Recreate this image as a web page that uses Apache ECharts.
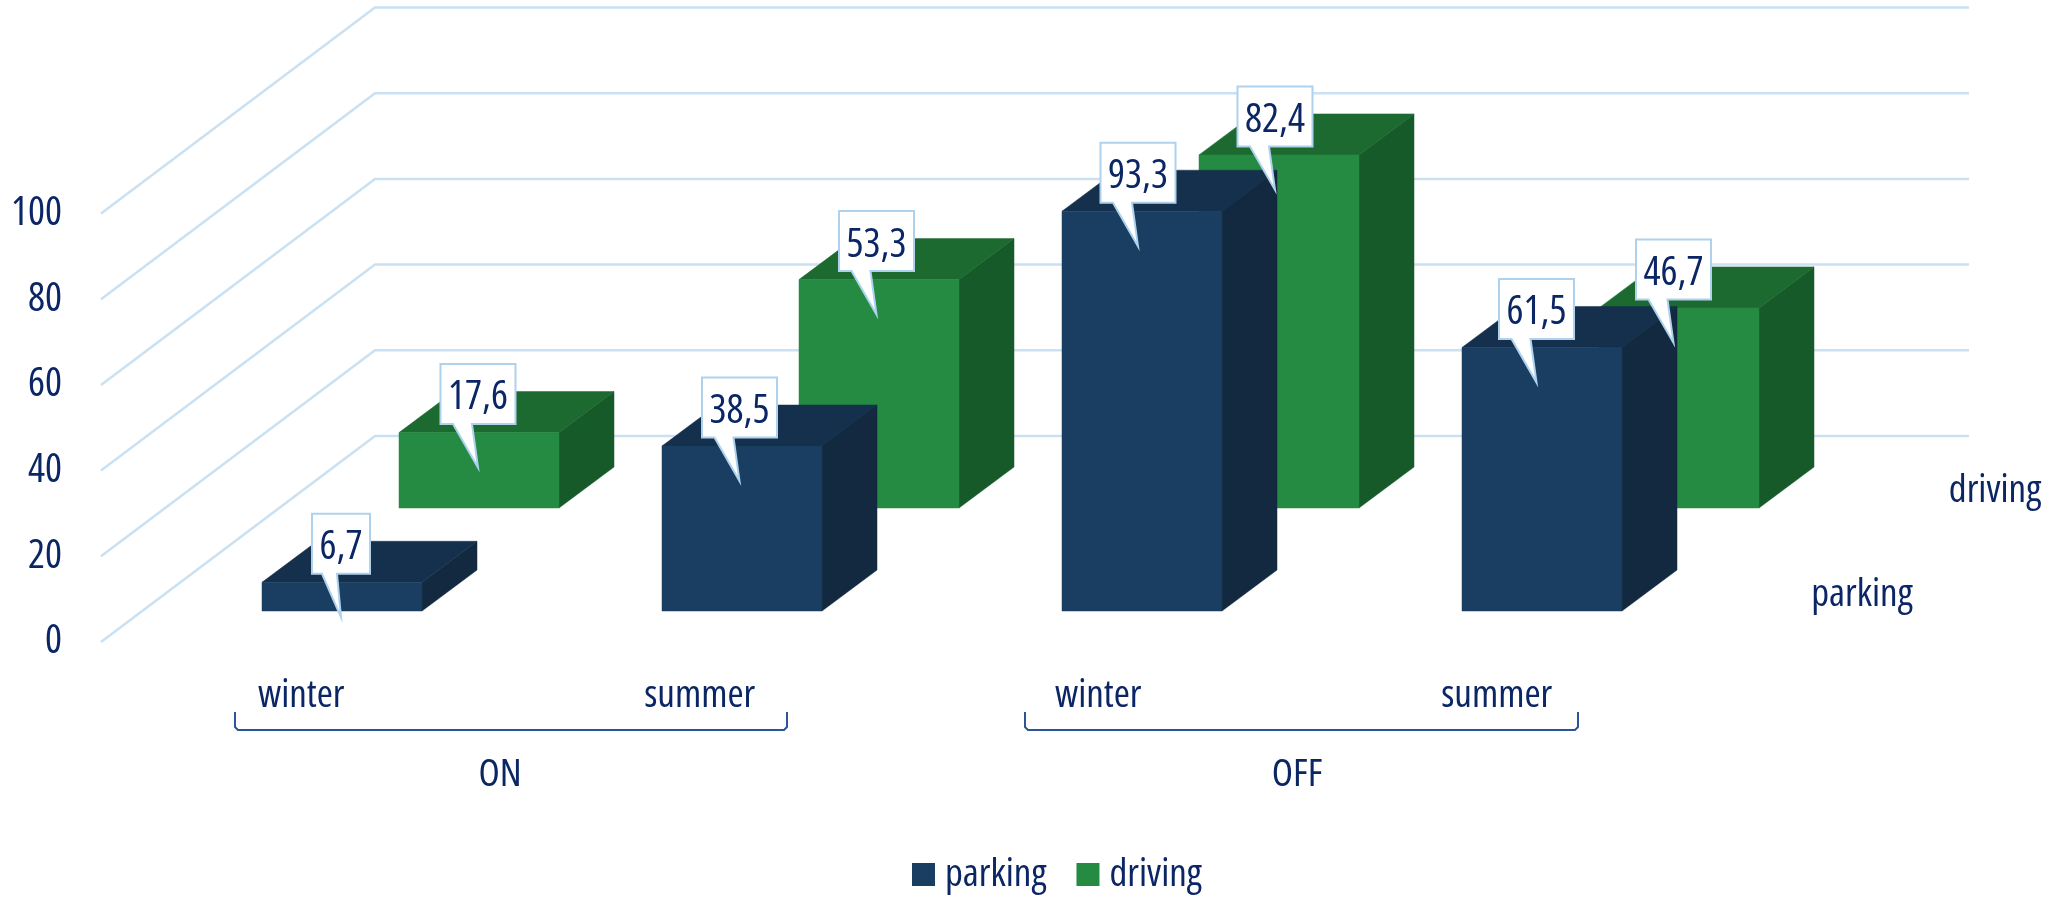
<!DOCTYPE html>
<html><head><meta charset="utf-8">
<style>html,body{margin:0;padding:0;background:#fff}#c{width:2049px;height:897px}</style>
<script src="https://cdn.jsdelivr.net/npm/echarts@6/dist/echarts.min.js"></script>
</head><body><div id="c"></div>
<script>
const seasons = ['winter','summer','winter','summer'];
const groupLabels = ['ON','OFF'];
const rowNames = ['parking','driving'];
const parking = [6.7,38.5,93.3,61.5];
const driving = [17.6,53.3,82.4,46.7];
const yTicks = [0,20,40,60,80,100];

const FONT = '"Open Sans",sans-serif';
const STRETCH = 'condensed';
const INK = '#0b2665';
const NUM = 40, WORD = 39;
const PAL = [
  {front:'#193e61',top:'#15304c',side:'#12293f'},
  {front:'#258a42',top:'#1c6a30',side:'#175a29'}
];
const ROW = [137,-103], MARGIN = [41,-31], DEPTH = [55,-41], BARW = 160, WALL = [274,-206];

function barBase(api,c,row){
  const p = api.coord([c,0]);
  return [p[0]+MARGIN[0]+row*ROW[0]-BARW/2, p[1]+MARGIN[1]+row*ROW[1]];
}
function barItem(row){
  return function(params,api){
    const c = api.value(0), v = api.value(1), b = barBase(api,c,row);
    const top = b[1] + (api.coord([c,v])[1]-api.coord([c,0])[1]);
    const L=b[0], R=L+BARW, B=b[1], dx=DEPTH[0], dy=DEPTH[1], col=PAL[row];
    const poly=(pts,fill)=>({type:'polygon',shape:{points:pts},style:{fill:fill,stroke:fill,lineWidth:0.5}});
    return {type:'group',children:[
      poly([[R,B],[R+dx,B+dy],[R+dx,top+dy],[R,top]],col.side),
      poly([[L,top],[R,top],[R+dx,top+dy],[L+dx,top+dy]],col.top),
      poly([[L,B],[R,B],[R,top],[L,top]],col.front)
    ]};
  };
}
function calloutItem(row){
  return function(params,api){
    const c = api.value(0), v = api.value(1), b = barBase(api,c,row);
    const top = b[1] + (api.coord([c,v])[1]-api.coord([c,0])[1]);
    const txt = String(v).replace('.',',');
    const cx = b[0]+BARW/2-1-1.5*c;
    const w = txt.length>3?75:58, h=60, by=top-8.5, ty=by-h;
    const t1 = txt.length>3?-25:-19, t2 = txt.length>3?-6:-4;
    return {type:'group',children:[
      {type:'polygon',shape:{points:[[cx-w/2,ty],[cx+w/2,ty],[cx+w/2,by],[cx+t2,by],[cx,top+35],[cx+t1,by],[cx-w/2,by]]},
       style:{fill:'#fff',stroke:'#aed2ee',lineWidth:2}},
      {type:'text',style:{text:txt,x:cx,y:ty+h/2+4,align:'center',verticalAlign:'middle',font:STRETCH+' '+NUM+'px '+FONT,fill:INK}}
    ]};
  };
}
function gridItem(params,api){
  const p = api.coord([0,api.value(0)]);
  const x0 = params.coordSys.x, y = p[1];
  const right = params.coordSys.x+params.coordSys.width+268;
  return {type:'polyline',shape:{points:[[x0,y],[x0+WALL[0],y+WALL[1]],[right,y+WALL[1]]]},
    style:{fill:null,stroke:'#c9e1f3',lineWidth:2.5}};
}
const catIdx = a => a.map((v,i)=>[i,v]);
const bracket=(l,r)=>({type:'polyline',shape:{points:[[l,712],[l,727],[l+3,730],[r-3,730],[r,727],[r,712]]},
  style:{fill:null,stroke:'#2b5597',lineWidth:2},z:5});
const txt=(s,x,y)=>({type:'text',style:{text:s,x:x,y:y,align:'center',verticalAlign:'middle',font:STRETCH+' '+WORD+'px '+FONT,fill:INK},z:5});

const chart = echarts.init(document.getElementById('c'),null,{renderer:'canvas'});
chart.setOption({
  animation:false,
  backgroundColor:'#fff',
  grid:[
    {left:101,top:213.5,width:1600,height:428.5},
    {left:102,top:213.5,width:1594,height:428.5}
  ],
  xAxis:[
    {type:'category',data:seasons,gridIndex:0,axisLine:{show:false},axisTick:{show:false},axisLabel:{show:false}},
    {type:'category',data:seasons,gridIndex:1,axisLine:{show:false},axisTick:{show:false},
     axisLabel:{show:true,interval:0,margin:34,fontStyle:STRETCH,fontFamily:FONT,fontSize:WORD,color:INK}}
  ],
  yAxis:[
    {type:'value',min:0,max:100,interval:20,gridIndex:0,splitLine:{show:false},axisLine:{show:false},axisTick:{show:false},
     axisLabel:{margin:39,padding:[12,0,0,0],fontStyle:STRETCH,fontFamily:FONT,fontSize:NUM,color:INK}},
    {type:'value',min:0,max:100,interval:20,gridIndex:1,show:false,splitLine:{show:false}}
  ],
  legend:{data:rowNames,left:907,top:850,itemWidth:23,itemHeight:23,itemGap:30,icon:'rect',
    textStyle:{fontStyle:STRETCH,fontFamily:FONT,fontSize:WORD,color:INK,padding:[0,0,0,5]}},
  series:[
    {type:'custom',name:'grid',silent:true,z:1,data:yTicks.map(v=>[v]),encode:{y:0},renderItem:gridItem,clip:false},
    {type:'custom',name:'driving',z:2,itemStyle:{color:PAL[1].front},data:catIdx(driving),encode:{x:0,y:1},renderItem:barItem(1),clip:false},
    {type:'custom',name:'parking',z:3,itemStyle:{color:PAL[0].front},data:catIdx(parking),encode:{x:0,y:1},renderItem:barItem(0),clip:false},
    {type:'custom',name:'driving labels',z:4,data:catIdx(driving),encode:{x:0,y:1},renderItem:calloutItem(1),clip:false},
    {type:'custom',name:'parking labels',z:4,data:catIdx(parking),encode:{x:0,y:1},renderItem:calloutItem(0),clip:false}
  ],
  graphic:[
    bracket(235,787), bracket(1025,1578),
    txt(groupLabels[0],500,775), txt(groupLabels[1],1297,775),
    txt(rowNames[0],1862,595), txt(rowNames[1],1995,491)
  ]
});
</script></body></html>
